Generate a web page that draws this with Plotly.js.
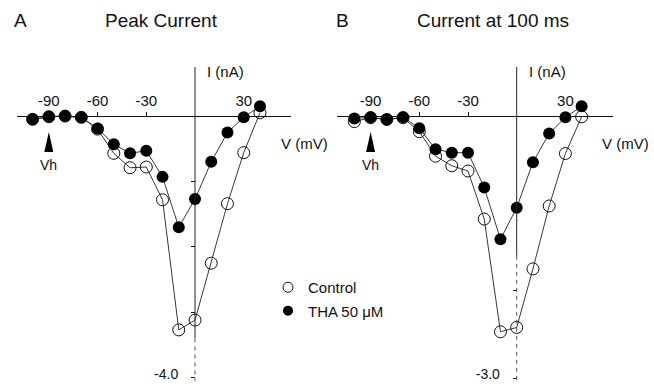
<!DOCTYPE html>
<html>
<head>
<meta charset="utf-8">
<script src="https://cdn.plot.ly/plotly-3.0.1.min.js"></script>
<style>html,body{margin:0;padding:0;background:#fff;}#chart{width:654px;height:386px;}</style>
</head>
<body>
<div id="chart"></div>
<script>
// ---- data ----
const voltage = [-100, -90, -80, -70, -60, -50, -40, -30, -20, -10, 0, 10, 20, 30, 40]; // mV
const peakControl = [-0.05, -0.01, 0.0, -0.02, -0.20, -0.57, -0.79, -0.78, -1.28, -3.27, -3.12, -2.25, -1.34, -0.56, 0.05];
const peakTHA     = [-0.05, -0.01, 0.0, -0.02, -0.19, -0.43, -0.57, -0.53, -0.93, -1.70, -1.27, -0.70, -0.25, -0.02, 0.15];
const lateControl = [-0.065, -0.02, -0.04, -0.02, -0.18, -0.46, -0.57, -0.63, -1.18, -2.47, -2.42, -1.75, -1.03, -0.43, -0.01];
const lateTHA     = [-0.03, -0.015, -0.04, -0.015, -0.14, -0.38, -0.42, -0.42, -0.82, -1.41, -1.05, -0.53, -0.20, -0.015, 0.11];
const holdingPotential = -90; // Vh, mV
const xTickVals = [-90, -60, -30, 30];
const xTickText = ['-90', '-60', '-30', '30'];
const yTickValsA = [-1, -2, -3, -4];
const yTickTextA = ['', '', '', '-4.0'];
const yTickValsB = [-1, -2, -3];
const yTickTextB = ['', '', '-3.0'];
const panelLetters = ['A', 'B'];
const panelTitles = ['Peak Current', 'Current at 100 ms'];
const seriesNames = ['Control', 'THA 50 \u03bcM'];

// ---- styling ----
const FONT = 'Liberation Sans, Arial, Helvetica, sans-serif';
const lineStyle = {color: '#222', width: 0.9};
const openMarker = {symbol: 'circle-open', size: 12, color: '#111', line: {width: 1, color: '#111'}};
const fillMarker = {symbol: 'circle', size: 12, color: '#000', line: {width: 0}};

function curve(x, y, ax, marker) {
  return {x: x, y: y, xaxis: ax[0], yaxis: ax[1], mode: 'lines+markers', type: 'scatter',
          line: lineStyle, marker: marker, showlegend: false, hoverinfo: 'skip', cliponaxis: false};
}

const traces = [
  curve(voltage, peakControl, ['x', 'y'], openMarker),
  curve(voltage, peakTHA, ['x', 'y'], fillMarker),
  curve(voltage, lateControl, ['x2', 'y2'], openMarker),
  curve(voltage, lateTHA, ['x2', 'y2'], fillMarker),
  {x: [null], y: [null], mode: 'markers', name: seriesNames[0], legendgroup: 'c',
   marker: {symbol: 'circle-open', size: 10, color: '#111', line: {width: 1}}},
  {x: [null], y: [null], mode: 'markers', name: seriesNames[1], legendgroup: 't',
   marker: {symbol: 'circle', size: 10, color: '#000'}}
];

const xAxisCommon = {
  anchor: 'free', position: (386 - 116) / 386, side: 'top',
  showline: true, linecolor: '#111', linewidth: 1,
  ticks: 'outside', ticklen: 4, tickcolor: '#111', tickwidth: 1,
  tickvals: xTickVals, ticktext: xTickText,
  tickfont: {family: FONT, size: 15, color: '#111'},
  showgrid: false, zeroline: false, fixedrange: true
};
const yAxisCommon = {
  anchor: 'free', showline: false,
  ticks: 'outside', ticklen: 4, tickcolor: '#111', tickwidth: 1,
  tickfont: {family: FONT, size: 14, color: '#111'},
  ticklabelstandoff: 10, ticklabeloverflow: 'allow', ticklabelshift: -4,
  showgrid: false, zeroline: false, fixedrange: true
};

const layout = {
  width: 654, height: 386,
  margin: {l: 0, r: 0, t: 0, b: 0},
  paper_bgcolor: '#fff', plot_bgcolor: 'rgba(0,0,0,0)',
  font: {family: FONT, color: '#111'},
  showlegend: true,
  legend: {x: 268 / 654, y: (386 - 271) / 386, xanchor: 'left', yanchor: 'top',
           font: {family: FONT, size: 15, color: '#111'}, bgcolor: 'rgba(0,0,0,0)',
           tracegroupgap: 1, itemclick: false},
  xaxis: Object.assign({}, xAxisCommon, {domain: [17 / 654, 291 / 654], range: [-109.6, 59.1]}),
  yaxis: Object.assign({}, yAxisCommon, {domain: [0.0132, 0.8264], range: [-4.05, 0.75],
          position: 195 / 654, tickvals: yTickValsA, ticktext: yTickTextA}),
  xaxis2: Object.assign({}, xAxisCommon, {domain: [337 / 654, 613.3 / 654], range: [-110.7, 59.5]}),
  yaxis2: Object.assign({}, yAxisCommon, {domain: [0.0091, 0.8264], range: [-3.05, 0.56],
          position: 516.7 / 654, tickvals: yTickValsB, ticktext: yTickTextB}),
  shapes: [],
  annotations: []
};

// y axis lines (solid upper part, broken lower part as in the print)
[['x', 'y', -3.4, -4.05, 0.75], ['x2', 'y2', -1.6, -3.05, 0.56]].forEach(function (s) {
  layout.shapes.push({type: 'line', xref: s[0], yref: s[1], x0: 0, x1: 0, y0: s[4], y1: s[2],
                      line: {color: '#222', width: 1}});
  layout.shapes.push({type: 'line', xref: s[0], yref: s[1], x0: 0, x1: 0, y0: s[2], y1: s[3],
                      line: {color: '#555', width: 1, dash: '4px,4px'}});
  // Vh arrowhead
  layout.shapes.push({type: 'path', xref: s[0], yref: s[1], xsizemode: 'pixel', ysizemode: 'pixel',
                      xanchor: holdingPotential, yanchor: 0,
                      path: 'M -4.5 -36 L 0 -16 L 4.5 -36 Z',
                      fillcolor: '#000', line: {width: 0}});
  layout.annotations.push({xref: s[0], yref: s[1], x: holdingPotential, y: 0, yshift: -49,
                           text: 'Vh', showarrow: false, font: {family: FONT, size: 14, color: '#111'}});
});

// panel letters and titles
const titleX = [[20.5, 161], [342.5, 493]];
[0, 1].forEach(function (i) {
  layout.annotations.push({xref: 'paper', yref: 'paper', x: titleX[i][0] / 654, y: (386 - 21) / 386,
    xanchor: 'center', yanchor: 'middle', text: panelLetters[i], showarrow: false,
    font: {family: FONT, size: 19, color: '#111'}});
  layout.annotations.push({xref: 'paper', yref: 'paper', x: titleX[i][1] / 654, y: (386 - 21) / 386,
    xanchor: 'center', yanchor: 'middle', text: panelTitles[i], showarrow: false,
    font: {family: FONT, size: 19, color: '#111'}});
});

// axis titles
const iTitleX = [225 / 654, 547.5 / 654];
const vTitleX = [304 / 654, 625 / 654];
[0, 1].forEach(function (i) {
  layout.annotations.push({xref: 'paper', yref: 'paper', x: iTitleX[i], y: (386 - 71) / 386,
    xanchor: 'center', yanchor: 'middle', text: 'I (nA)', showarrow: false,
    font: {family: FONT, size: 15, color: '#111'}});
  layout.annotations.push({xref: 'paper', yref: 'paper', x: vTitleX[i], y: (386 - 143) / 386,
    xanchor: 'center', yanchor: 'middle', text: 'V (mV)', showarrow: false,
    font: {family: FONT, size: 15, color: '#111'}});
});

Plotly.newPlot('chart', traces, layout, {staticPlot: true, displayModeBar: false});
</script>
</body>
</html>
